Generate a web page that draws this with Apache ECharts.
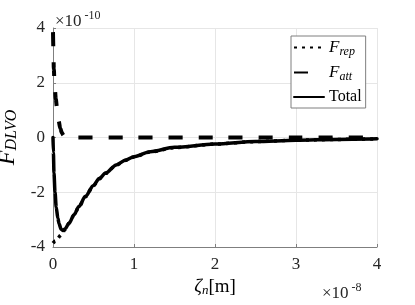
<!DOCTYPE html>
<html>
<head>
<meta charset="utf-8">
<script src="https://cdn.jsdelivr.net/npm/echarts@6/dist/echarts.min.js"></script>
<style>
html,body{margin:0;padding:0;background:#fff;}
#c{width:415px;height:305px;}
</style>
</head>
<body>
<div id="c"></div>
<script>
// x in units of 1e-8 m, force in units of 1e-10
const xTicks = [0, 1, 2, 3, 4];
const yTicks = [-4, -2, 0, 2, 4];

const xRep   = [0, 0.03, 0.06, 0.09, 0.12, 0.15, 0.2, 0.26, 0.32, 0.4, 0.5, 0.57, 0.65, 0.78, 0.9, 1.0, 1.2, 1.5, 2.0, 2.5, 3.0, 3.5, 4.0];
const fRep   = [-3.86, -3.78, -3.68, -3.58, -3.46, -3.36, -3.13, -2.83, -2.53, -2.16, -1.76, -1.51, -1.31, -1.01, -0.83, -0.71, -0.53, -0.37, -0.24, -0.15, -0.10, -0.07, -0.05];

const xAtt   = [0, 0.005, 0.01, 0.02, 0.035, 0.05, 0.07, 0.09, 0.11, 0.13, 0.16, 0.25, 1, 2, 3, 4];
const fAtt   = [3.85, 3.2, 2.5, 1.9, 1.4, 1.05, 0.6, 0.33, 0.17, 0.08, 0.03, 0.0, 0, 0, 0, 0];

const xTotal = [0, 0.005, 0.012, 0.025, 0.04, 0.06, 0.075, 0.1, 0.124, 0.15, 0.2, 0.26, 0.32, 0.4, 0.5, 0.57, 0.65, 0.78, 0.9, 1.0, 1.2, 1.5, 2.0, 2.5, 3.0, 3.5, 4.0];
const fTotal = [0.0, -0.55, -1.3, -2.0, -2.55, -2.95, -3.15, -3.35, -3.4, -3.33, -3.12, -2.82, -2.52, -2.15, -1.75, -1.5, -1.3, -1.0, -0.82, -0.70, -0.52, -0.36, -0.24, -0.15, -0.10, -0.07, -0.05];

const names = ['F_rep', 'F_att', 'Total'];

function pairs(xs, ys) { return xs.map((x, i) => [x, ys[i]]); }

const SERIF = '"Times New Roman", Times, "Liberation Serif", "DejaVu Serif", serif';
const chart = echarts.init(document.getElementById('c'), null, {renderer: 'canvas'});

const legendRich = {
  i: {fontFamily: SERIF, fontStyle: 'italic', fontSize: 17, color: '#000', lineHeight: 18},
  s: {fontFamily: SERIF, fontStyle: 'italic', fontSize: 12, color: '#000', verticalAlign: 'bottom', padding: [8, 0, 0, 0]},
  t: {fontFamily: SERIF, fontSize: 16, color: '#000', lineHeight: 18}
};

chart.setOption({
  animation: false,
  backgroundColor: '#fff',
  textStyle: {fontFamily: SERIF},
  grid: {left: 53, right: 38, top: 28, bottom: 58, containLabel: false, outerBoundsMode: 'none'},
  legend: {
    orient: 'vertical',
    left: 291, top: 36,
    width: 76,
    padding: [3, 4, 3, 2],
    itemGap: 6.5,
    itemWidth: 30, itemHeight: 14,
    borderColor: '#7f7f7f', borderWidth: 1,
    backgroundColor: '#fff',
    itemStyle: {color: 'rgba(0,0,0,0)', borderColor: 'rgba(0,0,0,0)', borderWidth: 0},
    data: names,
    formatter: function (n) {
      if (n === 'F_rep') return '{i|F}{s|rep}';
      if (n === 'F_att') return '{i|F}{s|att}';
      return '{t|Total}';
    },
    textStyle: {fontFamily: SERIF, rich: legendRich, padding: [0, 0, 0, 0]}
  },
  xAxis: {
    type: 'value', min: 0, max: 4, interval: 1,
    axisLine: {show: true, onZero: false, lineStyle: {color: '#7f7f7f', width: 1}},
    axisTick: {show: true, inside: true, length: 3, lineStyle: {color: '#7f7f7f'}},
    axisLabel: {fontFamily: SERIF, fontSize: 17, color: '#262626', margin: 9,
      formatter: v => xTicks.includes(v) ? String(v) : ''},
    splitLine: {show: true, lineStyle: {color: '#e6e6e6', width: 1}},
    name: '{z|ζ}{n|n}{m|[m]}',
    nameLocation: 'middle', nameGap: 24,
    nameTextStyle: {rich: {
      z: {fontFamily: SERIF, fontStyle: 'italic', fontSize: 19, color: '#000', lineHeight: 20},
      n: {fontFamily: SERIF, fontStyle: 'italic', fontSize: 13, color: '#000', verticalAlign: 'bottom', padding: [6, 0, 0, 0]},
      m: {fontFamily: SERIF, fontSize: 19, color: '#000', lineHeight: 20}
    }}
  },
  yAxis: {
    type: 'value', min: -4, max: 4, interval: 2,
    axisLine: {show: true, onZero: false, lineStyle: {color: '#7f7f7f', width: 1}},
    axisTick: {show: true, inside: true, length: 3, lineStyle: {color: '#7f7f7f'}},
    axisLabel: {fontFamily: SERIF, fontSize: 17, color: '#262626', margin: 8,
      formatter: v => yTicks.includes(v) ? String(v) : ''},
    splitLine: {show: true, lineStyle: {color: '#e6e6e6', width: 1}},
    name: '{f|F}{s|DLVO}',
    nameLocation: 'middle', nameGap: 30, nameRotate: 90,
    nameTextStyle: {rich: {
      f: {fontFamily: SERIF, fontStyle: 'italic', fontSize: 24, color: '#000', lineHeight: 24},
      s: {fontFamily: SERIF, fontStyle: 'italic', fontSize: 16, color: '#000', verticalAlign: 'bottom', padding: [8, 0, 0, 0]}
    }}
  },
  graphic: [
    {type: 'text', left: 55, top: 10, style: {
      text: '{a|×10}{b| -10}',
      rich: {
        a: {fontFamily: SERIF, fontSize: 17, fill: '#262626', lineHeight: 20, verticalAlign: 'bottom'},
        b: {fontFamily: SERIF, fontSize: 12, fill: '#262626', verticalAlign: 'top'}
      }}},
    {type: 'text', left: 322, top: 282, style: {
      text: '{a|×10}{b| -8}',
      rich: {
        a: {fontFamily: SERIF, fontSize: 17, fill: '#262626', lineHeight: 20, verticalAlign: 'bottom'},
        b: {fontFamily: SERIF, fontSize: 12, fill: '#262626', verticalAlign: 'top'}
      }}}
  ],
  series: [
    {name: 'F_rep', type: 'line', data: pairs(xRep, fRep), symbol: 'none', smooth: 0.3, smoothMonotone: 'x',
      lineStyle: {color: '#000', width: 3.5, type: [3, 5], cap: 'butt'}, itemStyle: {color: '#000'}, z: 2},
    {name: 'F_att', type: 'line', data: pairs(xAtt, fAtt), symbol: 'none', smooth: 0.3, smoothMonotone: 'x',
      lineStyle: {color: '#000', width: 4, type: [14, 16], cap: 'butt'}, itemStyle: {color: '#000'}, z: 3},
    {name: 'Total', type: 'line', data: pairs(xTotal, fTotal), symbol: 'none', smooth: 0.3, smoothMonotone: 'x',
      lineStyle: {color: '#000', width: 3.5, cap: 'round', join: 'round'}, itemStyle: {color: '#000'}, z: 4}
  ]
});
</script>
</body>
</html>
